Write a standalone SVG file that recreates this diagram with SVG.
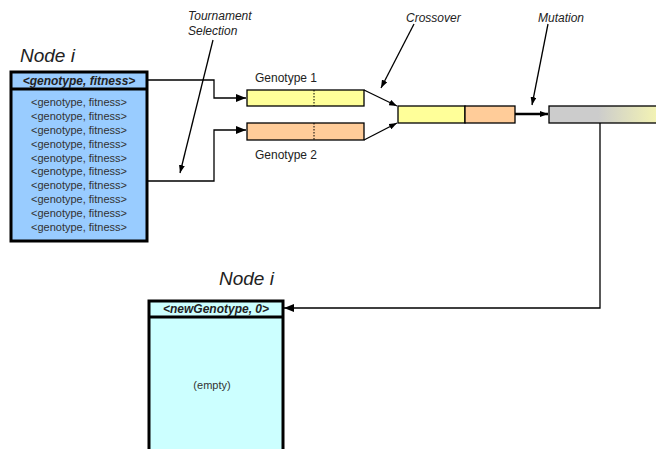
<svg xmlns="http://www.w3.org/2000/svg" width="656" height="449" viewBox="0 0 656 449">
<style>
text{font-family:"Liberation Sans",Arial,sans-serif;fill:#222}
.big{font-size:19px;font-style:italic}
.hdr{font-size:12px;font-weight:bold;font-style:italic;text-anchor:middle}
.item{font-size:11px;text-anchor:middle;fill:#333}
.lbl{font-size:12px}
.note{font-size:12px;font-style:italic}
.nodebox{stroke:#000;stroke-width:3}
.gene{stroke:#000;stroke-width:1.3}
.conn{fill:none;stroke:#000;stroke-width:1.3}
</style>
<defs>
<marker id="ah" viewBox="0 0 10 8" refX="10" refY="4" markerWidth="10" markerHeight="8" markerUnits="userSpaceOnUse" orient="auto">
<path d="M0,0 L10,4 L0,8 Z" fill="#000"/>
</marker>
<marker id="ahs" viewBox="0 0 8 6" refX="8" refY="3" markerWidth="8" markerHeight="6" markerUnits="userSpaceOnUse" orient="auto">
<path d="M0,0 L8,3 L0,6 Z" fill="#000"/>
</marker>
<linearGradient id="mut" gradientUnits="userSpaceOnUse" x1="598" y1="0" x2="656" y2="0">
<stop offset="0" stop-color="#cccccc"/>
<stop offset="1" stop-color="#f2f2b4"/>
</linearGradient>
</defs>

<g id="node-top">
<text class="big" x="20" y="62">Node i</text>
<rect class="nodebox" x="11" y="72" width="136" height="169" fill="#99ccff"/>
<line x1="11" y1="89" x2="147" y2="89" stroke="#000" stroke-width="3"/>
<text class="hdr" x="79" y="85">&lt;genotype, fitness&gt;</text>
<text class="item" x="79" y="106">&lt;genotype, fitness&gt;</text>
<text class="item" x="79" y="120">&lt;genotype, fitness&gt;</text>
<text class="item" x="79" y="134">&lt;genotype, fitness&gt;</text>
<text class="item" x="79" y="148">&lt;genotype, fitness&gt;</text>
<text class="item" x="79" y="162">&lt;genotype, fitness&gt;</text>
<text class="item" x="79" y="175">&lt;genotype, fitness&gt;</text>
<text class="item" x="79" y="189">&lt;genotype, fitness&gt;</text>
<text class="item" x="79" y="203">&lt;genotype, fitness&gt;</text>
<text class="item" x="79" y="217">&lt;genotype, fitness&gt;</text>
<text class="item" x="79" y="231">&lt;genotype, fitness&gt;</text>
</g>

<g id="genotype1">
<text class="lbl" x="255" y="82">Genotype 1</text>
<rect class="gene" x="247" y="90" width="117" height="16" fill="#ffff99"/>
<line x1="314" y1="90" x2="314" y2="106" stroke="#000" stroke-width="1" stroke-dasharray="1.5,1.5"/>
</g>

<g id="genotype2">
<rect class="gene" x="247" y="123" width="117" height="17" fill="#ffcc99"/>
<line x1="314" y1="123" x2="314" y2="140" stroke="#000" stroke-width="1" stroke-dasharray="1.5,1.5"/>
<text class="lbl" x="255" y="159">Genotype 2</text>
</g>

<g id="crossover-result">
<rect class="gene" x="398" y="106" width="67" height="17" fill="#ffff99"/>
<rect class="gene" x="465" y="106" width="50" height="17" fill="#ffcc99"/>
</g>

<g id="mutated">
<rect class="gene" x="549" y="106" width="110" height="17" fill="url(#mut)"/>
</g>

<g id="node-new">
<text class="big" x="219" y="285">Node i</text>
<rect class="nodebox" x="149" y="301" width="134" height="160" fill="#ccffff"/>
<line x1="149" y1="317" x2="283" y2="317" stroke="#000" stroke-width="3"/>
<text class="hdr" x="216" y="313">&lt;newGenotype, 0&gt;</text>
<text class="item" x="212" y="389">(empty)</text>
</g>

<g id="annotations">
<text class="note" x="188" y="20">Tournament</text>
<text class="note" x="188" y="35">Selection</text>
<text class="note" x="406" y="22">Crossover</text>
<text class="note" x="538" y="22">Mutation</text>
</g>

<g id="connectors">
<polyline class="conn" points="147,80 214,80 214,98 246,98" marker-end="url(#ah)"/>
<polyline class="conn" points="147,181 214,181 214,130 246,130" marker-end="url(#ah)"/>
<line class="conn" x1="364" y1="90" x2="397" y2="106" marker-end="url(#ahs)"/>
<line class="conn" x1="364" y1="140" x2="397" y2="123" marker-end="url(#ahs)"/>
<line x1="515" y1="114" x2="548" y2="114" stroke="#000" stroke-width="2.5" marker-end="url(#ahs)"/>
<polyline class="conn" points="600,123 600,308 284,308" marker-end="url(#ah)"/>
<line class="conn" x1="213" y1="40" x2="180" y2="173" marker-end="url(#ahs)"/>
<line class="conn" x1="414" y1="24" x2="381" y2="88" marker-end="url(#ahs)"/>
<line class="conn" x1="548" y1="24" x2="532" y2="105" marker-end="url(#ahs)"/>
</g>
</svg>
